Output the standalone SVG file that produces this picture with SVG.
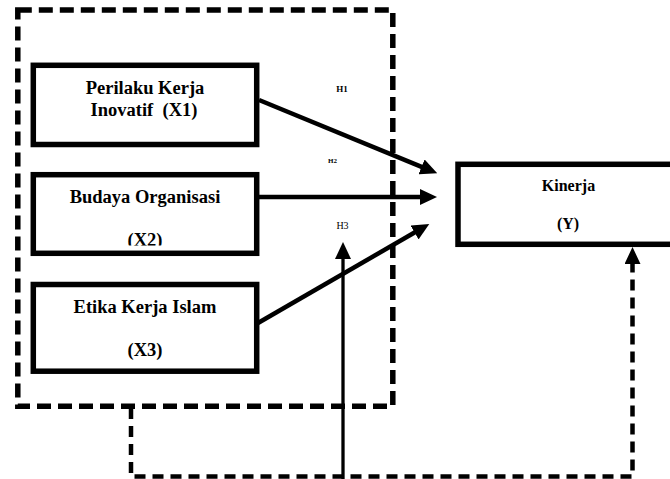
<svg xmlns="http://www.w3.org/2000/svg" width="670" height="479" viewBox="0 0 670 479">
  <style>
    .box { fill: #fff; stroke: #000; stroke-width: 5.5; }
    .frame { fill: none; stroke: #000; stroke-width: 5.5; stroke-dasharray: 14 7; }
    .lbl { font-family: "Liberation Serif", "Times New Roman", serif; font-weight: bold; font-size: 18.5px; text-anchor: middle; fill: #000; white-space: pre; }
    .lbly { font-family: "Liberation Serif", "Times New Roman", serif; font-weight: bold; font-size: 16px; text-anchor: middle; fill: #000; }
    .h { font-family: "Liberation Serif", "Times New Roman", serif; fill: #000; text-anchor: middle; }
    .arr { fill: none; stroke: #000; stroke-width: 4.5; }
    .arrthin { fill: none; stroke: #000; stroke-width: 3.3; }
    .dash { fill: none; stroke: #000; stroke-width: 4.5; stroke-dasharray: 11 7; }
  </style>
  <defs>
    <marker id="head" viewBox="0 0 17 16" refX="2" refY="8" markerWidth="17" markerHeight="16" markerUnits="userSpaceOnUse" orient="auto">
      <path d="M0,0 L17,8 L0,16 Z" fill="#000"/>
    </marker>
    <clipPath id="clipX2">
      <rect x="36" y="178" width="218" height="67.5"/>
    </clipPath>
  </defs>
  <rect width="670" height="479" fill="#fff"/>

  <!-- dashed frame around independent variables -->
  <rect id="frame" class="frame" x="17.8" y="10" width="375" height="396.2"/>

  <g id="connectors">
    <line class="arr" x1="259" y1="100" x2="423.4" y2="167.6" marker-end="url(#head)"/>
    <line class="arr" x1="259" y1="197" x2="422" y2="197" marker-end="url(#head)"/>
    <line class="arr" x1="258" y1="323" x2="416.3" y2="231.5" marker-end="url(#head)"/>
    <line class="arrthin" x1="343" y1="479" x2="343" y2="257" marker-end="url(#head)"/>
    <path class="dash" d="M131,408 V476.5 H632.5 V262" marker-end="url(#head)"/>
  </g>

  <g id="x1">
    <rect class="box" x="33.3" y="65.3" width="223.4" height="79.2"/>
    <text class="lbl" x="145" y="94">Perilaku Kerja</text>
    <text class="lbl" x="144" y="116">Inovatif  (X1)</text>
  </g>

  <g id="x2">
    <rect class="box" x="33.3" y="174.7" width="223.4" height="78.6"/>
    <text class="lbl" x="145" y="202.7">Budaya Organisasi</text>
    <text class="lbl" x="145" y="246.3" clip-path="url(#clipX2)">(X2)</text>
  </g>

  <g id="x3">
    <rect class="box" x="33.3" y="284.5" width="223.4" height="86.7"/>
    <text class="lbl" x="145" y="313">Etika Kerja Islam</text>
    <text class="lbl" x="145" y="356">(X3)</text>
  </g>

  <g id="y">
    <rect class="box" x="458" y="164.3" width="220" height="80"/>
    <text class="lbly" x="568.5" y="190.7">Kinerja</text>
    <text class="lbly" x="568" y="229.3">(Y)</text>
  </g>

  <g id="labels">
    <text class="h" x="342" y="91.7" font-size="9" font-weight="bold">H1</text>
    <text class="h" x="332.5" y="162.7" font-size="7" font-weight="bold">H2</text>
    <text class="h" x="342.5" y="229" font-size="10">H3</text>
  </g>
</svg>
